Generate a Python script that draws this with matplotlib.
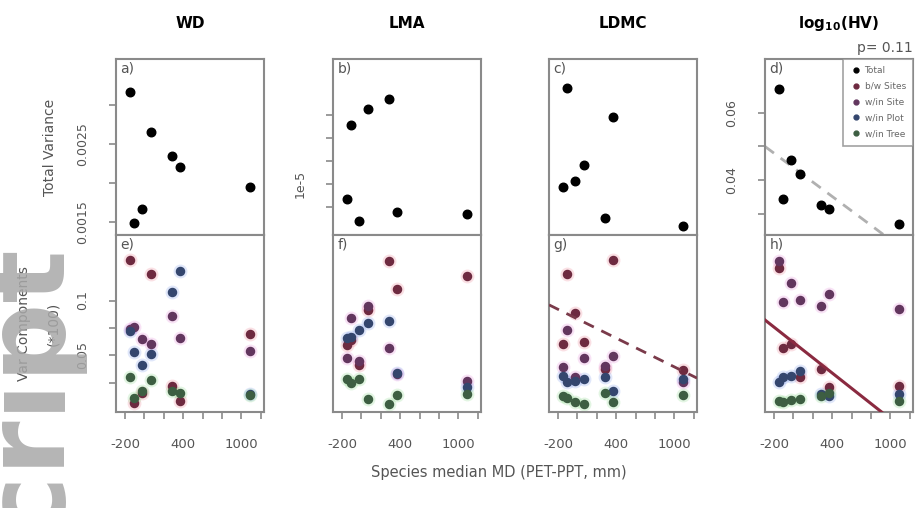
import numpy as np
import matplotlib
matplotlib.use("Agg")
import matplotlib.pyplot as plt

# species median MD (x), same 7 species in every panel
md = [-150, -104, -22, 68, 288, 367, 1088]

traits = ["WD", "LMA", "LDMC", r"$\mathbf{log_{10}(HV)}$"]

# total variance per trait (top row)
tot_wd = [0.00317, 0.00148, 0.00167, 0.00265, 0.00235, 0.00220, 0.00194]
tot_lma = [0.870e-5, 1.513e-5, 0.681e-5, 1.652e-5, 1.737e-5, 0.754e-5, 0.739e-5]
tot_ldmc = [0.271, 0.834, 0.309, 0.398, 0.098, 0.669, 0.053]
tot_hv = [0.0671, 0.0342, 0.0460, 0.0418, 0.0325, 0.0313, 0.0268]

# variance components (bottom row): b/w Sites, w/in Site, w/in Plot, w/in Tree
wd_bw = [0.137, 0.0063, 0.015, 0.1243, 0.022, 0.0085, 0.0697]
wd_site = [0.074, 0.0755, 0.0645, 0.060, 0.0857, 0.0655, 0.054]
wd_plot = [0.072, 0.053, 0.041, 0.051, 0.1075, 0.1275, 0.0145]
wd_tree = [0.030, 0.011, 0.017, 0.0275, 0.0175, 0.0155, 0.014]

lma_bw = [0.059, 0.064, 0.041, 0.0912, 0.1366, 0.1106, 0.1227]
lma_site = [0.047, 0.0836, 0.045, 0.095, 0.0564, 0.0327, 0.0266]
lma_plot = [0.066, 0.067, 0.073, 0.0797, 0.081, 0.034, 0.021]
lma_tree = [0.028, 0.025, 0.028, 0.010, 0.0055, 0.014, 0.0145]

ldmc_bw = [0.060, 0.1243, 0.0882, 0.0625, 0.037, 0.1373, 0.0366]
ldmc_site = [0.0388, 0.073, 0.030, 0.0473, 0.0397, 0.0494, 0.0257]
ldmc_plot = [0.0312, 0.0252, 0.0266, 0.028, 0.030, 0.0175, 0.028]
ldmc_tree = [0.013, 0.011, 0.007, 0.0055, 0.0155, 0.007, 0.0136]

hv_bw = [0.1297, 0.057, 0.060, 0.030, 0.0373, 0.0206, 0.0221]
hv_site = [0.1366, 0.0988, 0.1161, 0.1009, 0.0948, 0.1064, 0.0925]
hv_plot = [0.0252, 0.030, 0.0312, 0.0357, 0.0145, 0.013, 0.0145]
hv_tree = [0.0085, 0.007, 0.009, 0.010, 0.013, 0.015, 0.0085]

comp_names = ["b/w Sites", "w/in Site", "w/in Plot", "w/in Tree"]
comp_core = ["#6e2a40", "#62365e", "#34466e", "#3d5e42"]
comp_halo = ["#e0304a", "#d040c0", "#3060e0", "#40c040"]

# fitted lines (intercept, slope)
fit_hv_tot = (0.0437, -2.15e-5)
fit_ldmc_bw = (0.0832, -4.39e-5)
fit_hv_bw = (0.0617, -7.0e-5)

tops = [tot_wd, tot_lma, tot_ldmc, tot_hv]
bots = [[wd_bw, wd_site, wd_plot, wd_tree],
        [lma_bw, lma_site, lma_plot, lma_tree],
        [ldmc_bw, ldmc_site, ldmc_plot, ldmc_tree],
        [hv_bw, hv_site, hv_plot, hv_tree]]
top_ylims = [(0.00133, 0.00359), (0.557e-5, 2.087e-5), (0, 1), (0.0236, 0.0761)]
bot_ylim = (-0.002, 0.16)
xlim = (-293, 1234)

W, H = 915, 508
fig = plt.figure(figsize=(W / 100, H / 100), dpi=100)
gray = "#8a8a8a"
tcol = "#555555"

# watermark
fig.text(78 / W, 1 - 238 / H, "Manuscript", rotation=90, ha="right", va="top",
         fontsize=80, fontweight="bold", color="#a8a8a8", alpha=0.85, zorder=10)

lefts = [116, 333, 549, 765]
pw = 148


def style(ax):
    for s in ax.spines.values():
        s.set_color(gray)
        s.set_linewidth(1.5)
    ax.tick_params(colors=gray, labelcolor=tcol, length=5, width=1.2, labelsize=9)
    ax.tick_params(axis="y", pad=14)
    ax.set_xlim(*xlim)


letters = "abcdefgh"
for i in range(4):
    axt = fig.add_axes([lefts[i] / W, 1 - 235 / H, pw / W, 176 / H])
    axb = fig.add_axes([lefts[i] / W, 1 - 412 / H, pw / W, 177 / H])
    style(axt)
    style(axb)

    axt.scatter(md, tops[i], s=38, color="black", zorder=3, label="Total")
    axt.set_ylim(*top_ylims[i])
    axt.set_xticks([])
    axt.set_title(traits[i], fontsize=11, fontweight="bold", pad=22)

    for k in range(4):
        axb.scatter(md, bots[i][k], s=100, color=comp_halo[k], alpha=0.15,
                    linewidths=0, zorder=2)
        axb.scatter(md, bots[i][k], s=34, color=comp_core[k], zorder=3)
    axb.set_ylim(*bot_ylim)

    xt = np.arange(-200, 1201, 200)
    axb.set_xticks(xt)
    axb.set_xticklabels([str(v) if v in (-200, 400, 1000) else "" for v in xt], fontsize=9.5)
    axb.tick_params(axis="x", pad=14)

    axt.text(0.03, 0.985, letters[i] + ")", transform=axt.transAxes, va="top",
             ha="left", fontsize=10, color="#555555")
    axb.text(0.03, 0.985, letters[i + 4] + ")", transform=axb.transAxes, va="top",
             ha="left", fontsize=10, color="#555555")

    if i == 0:
        axt.set_yticks([0.0015, 0.002, 0.0025, 0.003])
        axt.set_yticklabels(["0.0015", "", "0.0025", ""], rotation=90, va="center")
        axt.set_ylabel("Total Variance", fontsize=10, color=tcol, labelpad=14)
        axb.set_yticks([0.025, 0.05, 0.075, 0.1])
        axb.set_yticklabels(["", "0.05", "", "0.1"], rotation=90, va="center")
        axb.set_ylabel("Var Components\n(*100)", fontsize=10, color=tcol,
                       labelpad=12, linespacing=2.4)
    elif i == 1:
        axt.set_yticks([0.8e-5, 1.0e-5, 1.2e-5, 1.4e-5, 1.6e-5])
        axt.set_yticklabels(["", "1e-5", "", "", ""], rotation=90, va="center")
        axb.set_yticks([])
    elif i == 2:
        axt.set_yticks([])
        axb.set_yticks([])
        axb.axline((0, fit_ldmc_bw[0]), slope=fit_ldmc_bw[1], color="#7a3a4a",
                   lw=2, ls=(0, (4, 3)), zorder=4)
    else:
        axt.set_yticks([0.03, 0.04, 0.05, 0.06])
        axt.set_yticklabels(["", "0.04", "", "0.06"], rotation=90, va="center")
        axb.set_yticks([])
        axt.axline((0, fit_hv_tot[0]), slope=fit_hv_tot[1], color="#b0b0b0",
                   lw=2, ls=(0, (4, 3)), zorder=2)
        axb.axline((0, fit_hv_bw[0]), slope=fit_hv_bw[1], color="#8a2a40",
                   lw=2.2, zorder=4)
        axt.text(1.0, 1.02, "p= 0.11", transform=axt.transAxes, ha="right",
                 va="bottom", fontsize=10, color="#555555")
        handles = [plt.Line2D([], [], ls="", marker="o", ms=3.5, color="black")]
        handles += [plt.Line2D([], [], ls="", marker="o", ms=3.5, color=c) for c in comp_core]
        leg = axt.legend(handles, ["Total"] + comp_names, loc="upper right",
                         fontsize=6.5, frameon=True, fancybox=False, borderaxespad=0,
                         handletextpad=0.4, borderpad=0.8, labelspacing=0.75,
                         handlelength=1.2, labelcolor="#666666")
        leg.get_frame().set_edgecolor(gray)
        leg.get_frame().set_linewidth(1.2)

fig.text(0.545, 1 - 473 / H, "Species median MD (PET-PPT, mm)", ha="center",
         va="center", fontsize=10.5, color=tcol)

fig.savefig("out.png", dpi=100)
